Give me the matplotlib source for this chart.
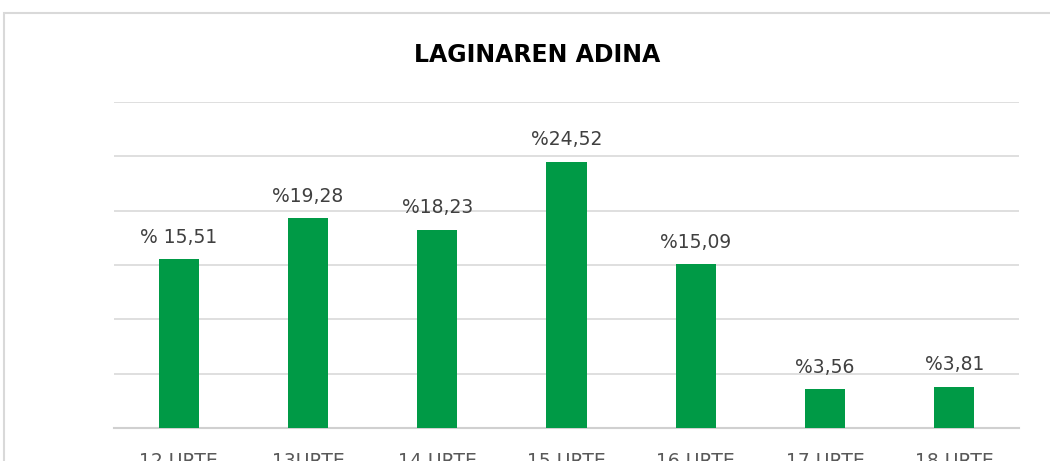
import matplotlib
matplotlib.use("Agg")
import matplotlib.pyplot as plt
from matplotlib.patches import Rectangle

categories = ["12 URTE", "13URTE", "14 URTE", "15 URTE", "16 URTE", "17 URTE", "18 URTE"]
values = [15.51, 19.28, 18.23, 24.52, 15.09, 3.56, 3.81]
labels = ["% 15,51", "%19,28", "%18,23", "%24,52", "%15,09", "%3,56", "%3,81"]
title = "LAGINAREN ADINA"

fig = plt.figure(figsize=(10.5, 4.61), dpi=100)
fig.patch.set_facecolor("white")
ax = fig.add_axes([114/1050, 1-428/461, (1019-114)/1050, (428-102)/461])

x = range(len(categories))
bars = ax.bar(x, values, width=0.31, color="#009A46", zorder=3)
ax.set_xlim(-0.5, len(categories)-0.5)
ax.set_ylim(0, 30)
ax.set_yticks([0, 5, 10, 15, 20, 25, 30])
ax.yaxis.grid(True, color="#D9D9D9", linewidth=1.2, zorder=0)
ax.tick_params(axis="y", left=False, labelleft=False)
ax.set_xticks(list(x))
ax.set_xticklabels(categories, fontsize=13.5, color="#595959")
ax.tick_params(axis="x", bottom=False, pad=14)
for s in ["top", "right", "left"]:
    ax.spines[s].set_visible(False)
ax.spines["bottom"].set_color("#D0D0D0")
ax.spines["bottom"].set_linewidth(1.5)

for b, lab in zip(bars, labels):
    ax.annotate(lab, (b.get_x()+b.get_width()/2, b.get_height()), xytext=(0, 9),
                textcoords="offset points", ha="center", va="bottom",
                fontsize=13.5, color="#404040")

fig.text(537/1050, 1-55/461, title, ha="center", va="center", fontsize=17,
         fontweight="bold", color="black")

fig.patches.append(Rectangle((4/1050, -0.1), 1.1, 1-13/461+0.1, transform=fig.transFigure,
                             fill=False, edgecolor="#D9D9D9", linewidth=1.5))

fig.savefig("out.png", dpi=100, facecolor="white")
